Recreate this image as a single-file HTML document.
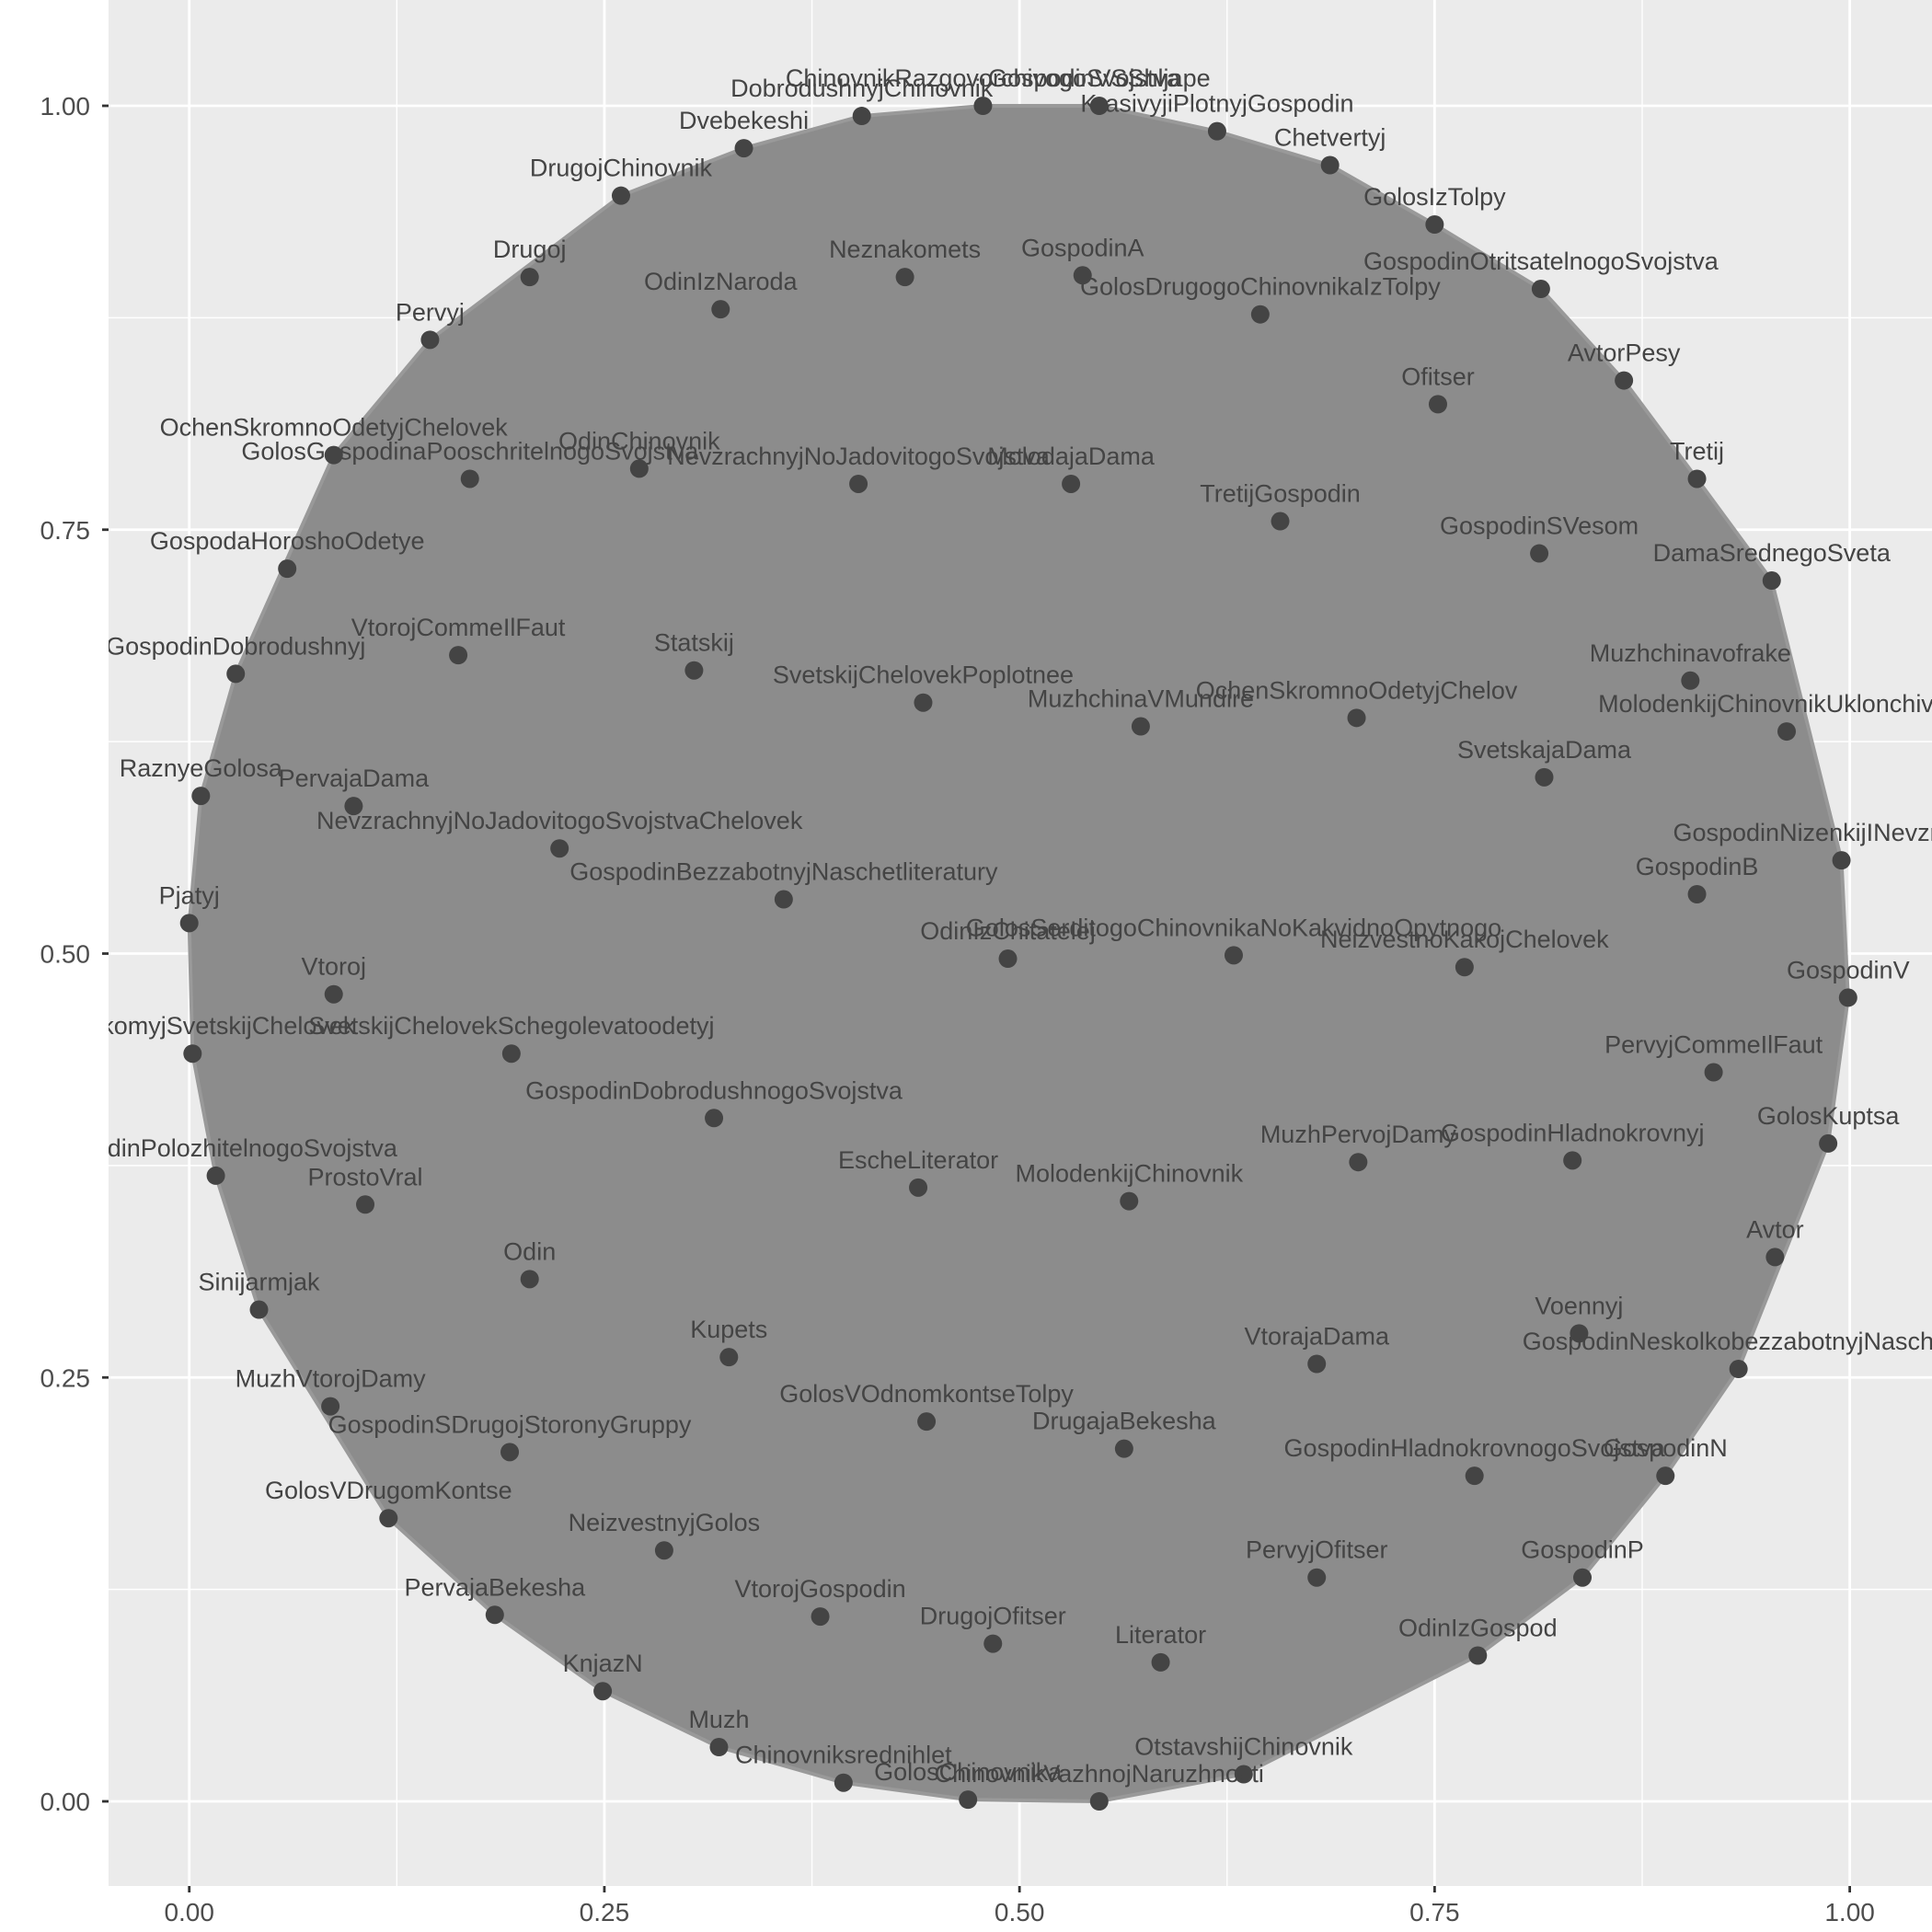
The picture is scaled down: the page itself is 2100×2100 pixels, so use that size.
<!DOCTYPE html>
<html><head><meta charset="utf-8"><style>
html,body{margin:0;padding:0;background:#fff}
svg{display:block}
text{font-family:"Liberation Sans",Arial,sans-serif}
</style></head><body>
<svg id="chart" width="2100" height="2100" viewBox="0 0 2100 2100" xmlns="http://www.w3.org/2000/svg">
<defs><clipPath id="pc"><rect x="118" y="0" width="1982" height="2050"/></clipPath></defs>
<rect x="118" y="0" width="1982" height="2050" fill="#ebebeb"/>
<g id="grid"></g>
<g id="edges" clip-path="url(#pc)"></g>
<g id="nodes" clip-path="url(#pc)"></g>
<g id="axes"></g>
</svg>
<script>
const labels=["ChinovnikRazgovorchivogoSvojstva","GospodinVSShljape","DobrodushnyjChinovnik","KrasivyjiPlotnyjGospodin","Dvebekeshi","Chetvertyj","DrugojChinovnik","GolosIzTolpy","Neznakomets","GospodinA","Drugoj","OdinIzNaroda","GolosDrugogoChinovnikaIzTolpy","GospodinOtritsatelnogoSvojstva","Pervyj","AvtorPesy","Ofitser","OchenSkromnoOdetyjChelovek","GolosGospodinaPooschritelnogoSvojstva","OdinChinovnik","NevzrachnyjNoJadovitogoSvojstva","MolodajaDama","Tretij","TretijGospodin","GospodinSVesom","GospodaHoroshoOdetye","DamaSrednegoSveta","VtorojCommeIlFaut","Statskij","SvetskijChelovekPoplotnee","GospodinDobrodushnyj","Muzhchinavofrake","MuzhchinaVMundire","OchenSkromnoOdetyjChelov","MolodenkijChinovnikUklonchivogo","RaznyeGolosa","PervajaDama","SvetskajaDama","NevzrachnyjNoJadovitogoSvojstvaChelovek","GospodinNizenkijINevzrachnyj","GospodinBezzabotnyjNaschetliteratury","GospodinB","Pjatyj","OdinIzChitatelej","GolosSerditogoChinovnikaNoKakvidnoOpytnogo","NeizvestnoKakojChelovek","Vtoroj","GospodinV","NeznakomyjSvetskijChelovek","SvetskijChelovekSchegolevatoodetyj","PervyjCommeIlFaut","GospodinDobrodushnogoSvojstva","GolosKuptsa","MuzhPervojDamy","GospodinHladnokrovnyj","GospodinPolozhitelnogoSvojstva","EscheLiterator","MolodenkijChinovnik","ProstoVral","Avtor","Odin","Sinijarmjak","VtorajaDama","Voennyj","GospodinNeskolkobezzabotnyjNaschet","Kupets","MuzhVtorojDamy","GolosVOdnomkontseTolpy","DrugajaBekesha","GospodinSDrugojStoronyGruppy","GospodinHladnokrovnogoSvojstva","GospodinN","GolosVDrugomKontse","NeizvestnyjGolos","PervyjOfitser","GospodinP","PervajaBekesha","VtorojGospodin","DrugojOfitser","Literator","OdinIzGospod","KnjazN","Muzh","OtstavshijChinovnik","Chinovniksrednihlet","GolosChinovnika","ChinovnikVazhnojNaruzhnosti"];
const xs=[.478,.548,.405,.619,.334,.687,.260,.750,.431,.538,.205,.320,.645,.814,.145,.864,.752,.087,.169,.271,.403,.531,.908,.657,.813,.059,.953,.162,.304,.442,.028,.904,.573,.703,.962,.007,.099,.816,.223,.995,.358,.908,.000,.493,.629,.768,.087,.999,.002,.194,.918,.316,.987,.704,.833,.016,.439,.566,.106,.955,.205,.042,.679,.837,.933,.325,.085,.444,.563,.193,.774,.889,.120,.286,.679,.839,.184,.380,.484,.585,.776,.249,.319,.635,.394,.469,.548];
const ys=[1.000,1.000,.994,.985,.975,.965,.947,.930,.899,.900,.899,.880,.877,.892,.862,.838,.824,.794,.780,.786,.777,.777,.780,.755,.736,.727,.720,.676,.667,.648,.665,.661,.634,.639,.631,.593,.587,.604,.562,.555,.532,.535,.518,.497,.499,.492,.476,.474,.441,.441,.430,.403,.388,.377,.378,.369,.362,.354,.352,.321,.308,.290,.258,.276,.255,.262,.233,.224,.208,.206,.192,.192,.167,.148,.132,.132,.110,.109,.093,.082,.086,.065,.032,.016,.011,.001,.000];
const ticks=[0,0.25,0.5,0.75,1];
const tickLabels=["0.00","0.25","0.50","0.75","1.00"];
const NS="http://www.w3.org/2000/svg";
const sx=v=>205.7+v*1804.9, sy=v=>1958-v*1843;
function mk(t,a,p){const e=document.createElementNS(NS,t);for(const k in a)e.setAttribute(k,a[k]);p.appendChild(e);return e;}
const grid=document.getElementById('grid'),axes=document.getElementById('axes');
for(let i=0;i<4;i++){const m=(ticks[i]+ticks[i+1])/2;
 const l1=mk('line',{x1:sx(m),x2:sx(m),y1:0,y2:2050,stroke:'#fff','stroke-width':1.4},grid);
 
 const l2=mk('line',{x1:118,x2:2100,y1:sy(m),y2:sy(m),stroke:'#fff','stroke-width':1.4},grid);
 }
ticks.forEach((t,i)=>{
 const a=mk('line',{x1:sx(t),x2:sx(t),y1:0,y2:2050,stroke:'#fff','stroke-width':2.8},grid);
 
 const b=mk('line',{x1:118,x2:2100,y1:sy(t),y2:sy(t),stroke:'#fff','stroke-width':2.8},grid);
 
 const tk=mk('line',{x1:sx(t),x2:sx(t),y1:2050,y2:2057,stroke:'#333','stroke-width':2.8},axes);
 
 const tk2=mk('line',{x1:111,x2:118,y1:sy(t),y2:sy(t),stroke:'#333','stroke-width':2.8},axes);
 
 const xl=mk('text',{x:sx(t),y:2088,'text-anchor':'middle','font-size':28,fill:'#4d4d4d'},axes);xl.textContent=tickLabels[i];
 
 const yl=mk('text',{x:98,y:sy(t)+10,'text-anchor':'end','font-size':28,fill:'#4d4d4d'},axes);yl.textContent=tickLabels[i];
 
});
const pts=xs.map((x,i)=>[sx(x),sy(ys[i])]).sort((a,b)=>a[0]-b[0]||a[1]-b[1]);
const cr=(o,a,b)=>(a[0]-o[0])*(b[1]-o[1])-(a[1]-o[1])*(b[0]-o[0]);
const lo=[],up=[];
for(const p of pts){while(lo.length>=2&&cr(lo[lo.length-2],lo[lo.length-1],p)<=0)lo.pop();lo.push(p);}
for(const p of pts.slice().reverse()){while(up.length>=2&&cr(up[up.length-2],up[up.length-1],p)<=0)up.pop();up.push(p);}
const hull=lo.slice(0,-1).concat(up.slice(0,-1));
const edges=document.getElementById('edges');
const hp=mk('polygon',{points:hull.map(p=>p.join(',')).join(' '),fill:'#8c8c8c',stroke:'#999','stroke-width':4,'stroke-linejoin':'round'},edges);

const nodes=document.getElementById('nodes');
xs.forEach((x,i)=>{
 const c=mk('circle',{cx:sx(x),cy:sy(ys[i]),r:10,fill:'#444'},nodes);
 
 const t=mk('text',{x:sx(x),y:sy(ys[i])-21,'text-anchor':'middle','font-size':27,fill:'#444'},nodes);
 t.textContent=labels[i];
 
});
</script>
</body></html>
